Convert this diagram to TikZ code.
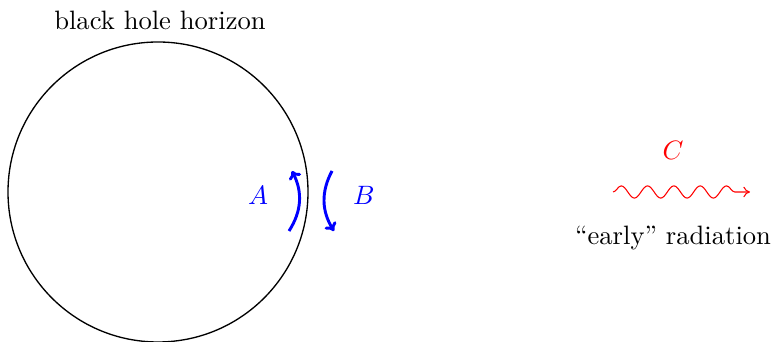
\documentclass[tikz,border=0pt]{standalone}
\usetikzlibrary{decorations.pathmorphing,arrows.meta}
\begin{document}
\begin{tikzpicture}[x=0.376pt,y=-0.376pt,
  horizon/.style={draw,line width=0.5pt},
  pairarrow/.style={draw=blue,line width=1.1pt,-{To[length=3pt,width=5pt]}},
  bluelabel/.style={text=blue},
  wave/.style={draw=red,-{To[length=2.5pt,width=4pt]},decorate,decoration={snake,amplitude=2.3pt,segment length=9.9pt,post length=3.5pt}}]
\useasboundingbox (0,0) rectangle (771,342);
\coordinate (c) at (158,192);
\draw[horizon] (c) circle[radius=150];
\node (title) at (160,20) {black hole horizon};
\coordinate (a1) at (289,231);
\coordinate (a2) at (292,171);
\coordinate (b1) at (332,171);
\coordinate (b2) at (334,231);
\draw[pairarrow] (a1) to[bend right=30] (a2);
\draw[pairarrow] (b1) to[bend right=30] (b2);
\node[bluelabel] (A) at (258,195) {$A$};
\node[bluelabel] (B) at (364,195) {$B$};
\coordinate (w1) at (613,192);
\coordinate (w2) at (750,192);
\draw[wave] (w1) -- (w2);
\node[text=red] (C) at (673,150) {$C$};
\node (early) at (673,238) {``early'' radiation};
\end{tikzpicture}
\end{document}
